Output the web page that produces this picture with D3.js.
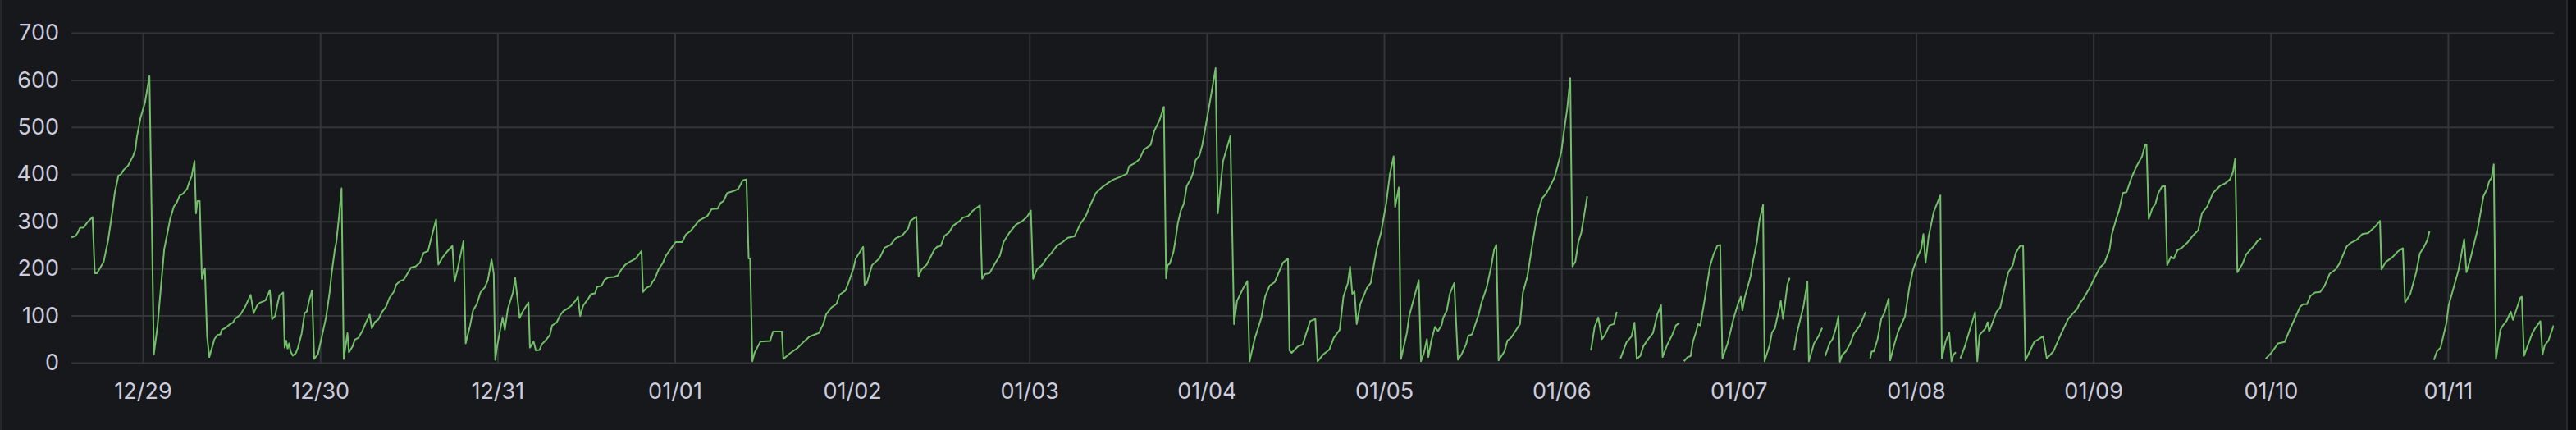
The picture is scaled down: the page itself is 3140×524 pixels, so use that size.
<!DOCTYPE html>
<html>
<head>
<meta charset="utf-8">
<script src="https://cdnjs.cloudflare.com/ajax/libs/d3/7.8.5/d3.min.js"></script>
<style>
  body { margin: 0; background: #0b0c0e; }
  svg { display: block; }
</style>
</head>
<body>
<div id="chart"></div>
<script>

// hours counted from 12/29 00:00, value per point (null = no data)
var hours = [
    -9.66, -9.1, -8.8, -8.5, -8.0, -7.5, -6.8, -6.5, -6.2, -5.3,
    -4.7, -4.1, -3.8, -3.3, -3.0, -2.6, -2.0, -1.3, -1.0, -0.8,
    -0.3, 0.3, 0.9, 1.5, 2.0, 2.9, 3.3, 3.7, 4.2, 4.6,
    5.0, 5.4, 6.0, 6.3, 6.6, 7.0, 7.2, 7.4, 7.7, 8.0,
    8.2, 8.4, 8.7, 9.0, 9.7, 10.1, 10.5, 10.7, 11.2, 11.8,
    12.2, 12.5, 13.2, 13.8, 14.6, 15.0, 15.5, 15.8, 16.6, 17.2,
    17.5, 17.9, 18.2, 18.5, 19.0, 19.2, 19.4, 19.6, 19.8, 20.0,
    20.3, 20.7, 21.0, 21.5, 21.9, 22.2, 22.5, 22.9, 23.2, 23.7,
    24.2, 24.8, 25.3, 25.6, 26.0, 26.2, 26.6, 26.9, 27.2, 27.7,
    27.9, 28.4, 28.7, 29.2, 29.7, 30.2, 30.7, 31.0, 31.4, 31.9,
    32.4, 32.9, 33.4, 34.0, 34.3, 34.8, 35.3, 35.7, 36.3, 36.9,
    37.5, 38.0, 38.6, 39.1, 39.7, 40.0, 40.6, 41.2, 41.9, 42.2,
    42.6, 43.4, 43.7, 44.3, 44.7, 45.2, 45.7, 46.3, 46.7, 47.2,
    47.5, 47.7, 48.0, 48.7, 49.0, 49.4, 50.1, 50.4, 51.0, 51.4,
    52.2, 52.4, 52.9, 53.2, 53.7, 54.0, 54.5, 55.1, 55.4, 56.0,
    56.5, 56.9, 57.5, 58.0, 58.6, 58.9, 59.2, 59.6, 60.3, 60.7,
    61.2, 61.5, 62.1, 62.5, 63.0, 63.8, 64.3, 64.7, 65.3, 66.0,
    66.7, 67.5, 67.7, 68.2, 68.7, 69.0, 69.3, 69.8, 70.4, 70.8,
    71.4, 72.1, 73.0, 73.5, 74.1, 75.3, 76.4, 77.0, 77.8, 78.2,
    78.6, 79.1, 80.1, 80.6, 81.2, 81.7, 82.0, 82.2, 82.5, 82.8,
    83.6, 84.9, 85.3, 86.5, 86.7, 87.6, 88.6, 89.5, 90.2, 91.0,
    91.5, 92.1, 92.5, 93.2, 93.9, 94.3, 95.1, 95.5, 96.2, 96.5,
    97.5, 97.7, 98.0, 98.7, 99.7, 100.4, 101.2, 101.9, 102.8, 103.6,
    103.9, 104.7, 105.0, 105.4, 106.1, 107.1, 107.5, 108.0, 108.5, 109.1,
    109.7, 110.6, 111.0, 111.7, 112.3, 113.3, 113.6, 114.0, 114.6, 115.4,
    116.0, 116.5, 117.3, 118.2, 119.0, 119.7, 120.2, 120.5, 121.0, 121.7,
    122.3, 123.0, 123.7, 124.5, 125.2, 126.1, 126.9, 127.6, 128.2, 129.0,
    129.8, 130.6, 131.3, 132.4, 133.2, 133.5, 134.3, 134.9, 135.5, 136.4,
    136.9, 137.6, 138.2, 138.5, 138.7, 139.0, 139.5, 139.8, 140.1, 140.5,
    140.9, 141.3, 141.9, 142.2, 142.5, 143.0, 143.4, 143.8, 144.7, 145.2,
    145.5, 145.9, 146.2, 147.2, 147.7, 148.1, 148.9, 149.5, 149.8, 150.5,
    151.4, 151.9, 152.5, 153.2, 154.3, 155.0, 155.2, 155.5, 156.3, 157.0,
    157.4, 158.0, 158.7, 159.0, 159.8, 160.6, 161.2, 162.0, 162.5, 163.1,
    163.4, 163.7, 164.0, 164.3, 164.8, 165.7, 166.2, 167.0, 167.6, 168.3,
    168.8, 169.3, 169.5, 170.0, 170.3, 171.1, 171.4, 172.7, 173.0, 173.4,
    173.8, 174.0, 174.4, 174.9, 175.3, 175.8, 176.0, 176.5, 176.9, 177.5,
    178.0, 178.5, 179.1, 179.4, 179.9, 180.8, 181.2, 181.9, 182.5, 182.9,
    183.2, 183.5, 184.3, 184.7, 185.2, 185.9, 186.4, 186.8, 187.4, 188.1,
    188.7, 189.4, 189.9, 190.5, 191.1, 192.0, 192.4, 192.8, 193.2, 193.5,
    193.9, 194.3, 194.7, 195.5, 195.7, 196.0, 196.5, 197.0, 197.5, 197.9,
    198.5, 199.1, 199.5, 199.7, 200.0, 200.8, 201.5, 201.9, 202.2, 202.7,
    203.1, 203.7, 204.4, 205.0, 205.5, 205.7, 206.3, 207.0, 207.5, 208.0,
    208.3, 208.6, 209.1, 209.5, 209.8, 210.2, 210.5, 210.8, 211.3, 211.6,
    212.1, 212.6, 213.1, 213.5, 213.8, 214.5, 215.3, 215.9, 216.3, 216.5,
    216.8, 217.6, 217.9, 218.5, 218.8, 219.3, 219.5, 220.2, 220.5, 220.9,
    221.3, 221.7, 222.0, 222.6, 222.9, 223.2, 223.5, 223.9, 224.8, 225.3,
    225.5, 226.2, 226.8, 227.3, 227.5, 227.7, 228.3, 228.7, 229.2, 229.5,
    229.7, 230.0, 230.5, 231.1, 231.6, 232.4, 233.2, 233.5, 233.8, 234.0,
    234.3, 234.8, 235.3, 235.7, 236.3, 236.5, 237.1, 237.6, 238.5, 239.1,
    239.6, 240.2, 240.7, 241.0, 241.3, 241.7, 242.4, 243.3, 243.5, 244.0,
    244.5, 244.8, 245.1, 245.4, 245.7, 246.0, 246.6, 247.4, 248.0, 248.3,
    248.6, 249.4, 249.7, 249.9, 250.9, 251.4, 252.1, 252.5, 253.1, 253.5,
    254.1, 254.5, 254.8, 255.3, 256.0, 257.2, 257.7, 258.6, 259.6, 260.6,
    261.1, 261.8, 262.2, 262.7, 263.5, 264.2, 264.9, 265.5, 266.2, 266.5,
    267.1, 267.5, 268.0, 268.5, 269.2, 269.9, 270.6, 271.0, 271.2, 271.5,
    272.0, 272.4, 272.8, 273.3, 273.7, 274.0, 274.5, 274.9, 275.4, 276.0,
    276.8, 277.5, 278.2, 278.7, 279.4, 280.2, 281.2, 281.8, 282.5, 282.9,
    283.2, 283.5, 284.2, 284.7, 285.7, 286.2, 286.7, 287.0, 287.3, 288.1,
    289.0, 289.9, 290.5, 291.2, 292.0, 292.4, 292.9, 293.4, 294.0, 294.7,
    295.3, 296.0, 296.8, 297.3, 298.3, 298.8, 299.6, 300.4, 301.2, 302.1,
    302.8, 303.0, 303.6, 304.5, 305.2, 305.9, 306.2, 306.9, 307.7, 308.2,
    308.7, 309.2, 309.5, 309.8, 310.1, 310.5, 311.0, 311.8, 312.1, 313.4,
    314.2, 314.5, 315.0, 316.0, 316.8, 317.3, 317.6, 317.9, 318.2, 318.5,
    319.1, 319.4, 319.9, 320.5, 320.8, 321.8, 322.0, 322.3, 323.0, 323.4,
    323.8, 324.5, 324.8, 325.1, 325.6, 326.3
];

var values = [
    266, 269, 276, 286, 287, 298, 309, 190, 190, 214,
    259, 323, 360, 397, 399, 409, 418, 439, 452, 479,
    520, 552, 608, 18, 79, 241, 272, 305, 331, 340,
    355, 358, 369, 384, 395, 428, 317, 343, 343, 178,
    190, 200, 56, 12, 50, 59, 60, 70, 74, 82,
    85, 93, 102, 117, 144, 105, 122, 127, 132, 154,
    92, 99, 122, 143, 149, 32, 47, 30, 41, 24,
    15, 20, 32, 62, 105, 109, 131, 153, 8, 18,
    53, 96, 151, 195, 241, 256, 317, 370, 8, 63,
    22, 35, 49, 53, 67, 85, 102, 73, 86, 92,
    108, 118, 138, 151, 166, 173, 176, 186, 202, 204,
    212, 233, 237, 268, 304, 208, 224, 236, 248, 172,
    198, 258, 41, 79, 111, 124, 149, 160, 175, 219,
    189, 6, 39, 96, 70, 114, 149, 180, 95, 108,
    128, 32, 45, 26, 27, 39, 47, 59, 79, 85,
    101, 109, 115, 121, 132, 140, 99, 121, 136, 146,
    147, 161, 163, 176, 181, 182, 185, 196, 208, 215,
    221, 237, 150, 159, 163, 172, 178, 198, 212, 227,
    240, 256, 256, 272, 279, 302, 311, 326, 327, 339,
    343, 360, 365, 369, 387, 389, 221, 221, 3, 21,
    45, 46, 66, 66, 8, 20, 31, 45, 55, 60,
    63, 82, 103, 117, 125, 144, 153, 169, 201, 221,
    246, 165, 169, 207, 221, 244, 250, 264, 270, 285,
    301, 310, 183, 198, 208, 239, 246, 248, 269, 276,
    291, 301, 308, 311, 322, 334, 178, 188, 190, 212,
    227, 256, 276, 293, 300, 310, 323, 178, 198, 207,
    221, 233, 248, 256, 265, 268, 295, 310, 333, 360,
    372, 381, 388, 395, 401, 417, 424, 432, 452, 462,
    492, 514, 543, 179, 207, 210, 235, 264, 297, 323,
    337, 375, 392, 405, 430, 439, 462, 497, 578, 625,
    317, 380, 427, 481, 82, 131, 157, 173, 3, 51,
    96, 140, 163, 171, 212, 221, 26, 21, 34, 39,
    59, 88, 93, 3, 18, 28, 53, 70, 140, 169,
    204, 146, 151, 82, 125, 159, 169, 241, 277, 339,
    401, 438, 330, 372, 8, 64, 99, 175, 3, 21,
    50, 12, 47, 76, 67, 80, 95, 111, 146, 169,
    6, 18, 39, 57, 60, 102, 128, 160, 204, 240,
    250, 5, 24, 47, 53, 70, 82, 149, 183, 254,
    311, 349, 358, 375, 394, 448, 496, 540, 604, 204,
    215, 256, 276, 353, null, 26, 76, 96, 50, 59,
    79, 82, 108, null, 9, 43, 56, 85, 8, 15,
    35, 49, 63, 103, 122, 12, 37, 59, 79, 85,
    null, 3, 12, 14, 44, 64, 82, 79, 125, 154,
    204, 230, 248, 250, 9, 41, 93, 125, 140, 111,
    137, 183, 212, 259, 301, 335, 3, 38, 64, 73,
    102, 131, 93, 166, 180, null, 26, 64, 122, 172,
    3, 41, 56, 74, null, 14, 41, 50, 76, 99,
    2, 16, 24, 41, 62, 79, 108, null, 9, 24,
    24, 50, 93, 105, 136, 5, 41, 67, 98, 160,
    198, 224, 241, 273, 212, 267, 320, 355, 10, 44,
    64, 3, 18, 22, null, 9, 34, 76, 107, 3,
    59, 73, 86, 66, 108, 117, 166, 192, 207, 233,
    248, 248, 5, 21, 44, 56, 9, 24, 60, 93,
    102, 114, 127, 137, 159, 181, 202, 211, 240, 272,
    305, 324, 360, 362, 394, 418, 438, 462, 463, 305,
    328, 337, 360, 374, 375, 207, 225, 221, 239, 244,
    256, 270, 281, 317, 331, 360, 376, 380, 389, 404,
    433, 192, 210, 230, 247, 258, 264, null, 8, 21,
    41, 44, 67, 91, 119, 124, 124, 142, 149, 150,
    163, 189, 198, 210, 247, 254, 260, 273, 275, 288,
    301, 198, 214, 224, 236, 243, 128, 146, 192, 232,
    244, 260, 279, null, 6, 24, 32, 85, 122, 195,
    262, 192, 218, 282, 353, 369, 386, 392, 421, 8,
    70, 78, 88, 108, 91, 138, 140, 15, 45, 62,
    73, 88, 18, 37, 47, 79
];

var yTicks = [0, 100, 200, 300, 400, 500, 600, 700];
var xStartHour = -9.667;
var xEndHour = 326.333;

var svgWidth = 3140;
var svgHeight = 524;

var margin = {
    top: 40,
    right: 27,
    bottom: 82,
    left: 87
};

var width = svgWidth - margin.left - margin.right;
var height = svgHeight - margin.top - margin.bottom;

var baseTime = Date.UTC(2023, 11, 29);
var toDate = h => new Date(baseTime + h * 3600 * 1000);

var data = hours.map((h, i) => ({ time: toDate(h), value: values[i] }));

var svg = d3.select("#chart")
    .append("svg")
    .attr("width", svgWidth)
    .attr("height", svgHeight);

// panel
svg.append("rect")
    .attr("x", 1)
    .attr("y", -4)
    .attr("width", 3128)
    .attr("height", svgHeight + 8)
    .attr("fill", "#17181c")
    .attr("stroke", "#26282d")
    .attr("stroke-width", 2);

var chartGroup = svg.append("g")
    .attr("transform", `translate(${margin.left}, ${margin.top})`);

var xScale = d3.scaleUtc()
    .domain([toDate(xStartHour), toDate(xEndHour)])
    .range([0, width]);

var yScale = d3.scaleLinear()
    .domain([0, 700])
    .range([height, 0]);

var xAxis = d3.axisBottom(xScale)
    .ticks(d3.utcDay.every(1))
    .tickFormat(d3.utcFormat("%m/%d"))
    .tickSize(-height)
    .tickPadding(25);

var yAxis = d3.axisLeft(yScale)
    .tickValues(yTicks)
    .tickSize(-width)
    .tickPadding(15);

chartGroup.append("g")
    .attr("class", "yAxis")
    .call(yAxis);

chartGroup.append("g")
    .attr("class", "xAxis")
    .attr("transform", `translate(0, ${height})`)
    .call(xAxis);

chartGroup.selectAll(".domain").remove();

chartGroup.selectAll(".tick line")
    .attr("stroke", "#333539")
    .attr("stroke-width", 2);

chartGroup.selectAll(".tick text")
    .attr("fill", "#ccccdc")
    .attr("font-family", "Inter, 'Open Sans', sans-serif")
    .attr("font-size", "27px");

chartGroup.append("clipPath")
    .attr("id", "plotClip")
    .append("rect")
    .attr("width", width)
    .attr("height", height + 2)
    .attr("y", -1);

var line = d3.line()
    .defined(d => d.value !== null)
    .x(d => xScale(d.time))
    .y(d => yScale(d.value));

chartGroup.append("path")
    .datum(data)
    .attr("clip-path", "url(#plotClip)")
    .attr("fill", "none")
    .attr("stroke", "#73bf69")
    .attr("stroke-width", 2)
    .attr("stroke-linejoin", "round")
    .attr("d", line);

</script>
</body>
</html>
